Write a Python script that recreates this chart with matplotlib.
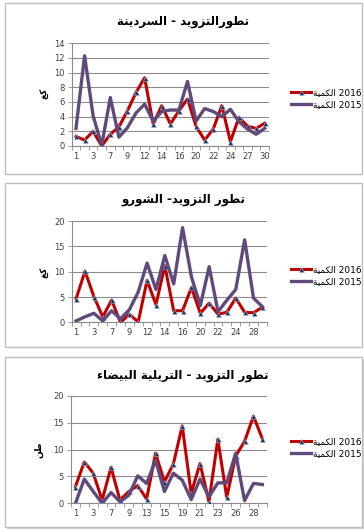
import matplotlib
matplotlib.use("Agg")
import matplotlib.pyplot as plt
from matplotlib.patches import Rectangle

# ============================================================
# DATA
# ============================================================

days_sardine = [1, 2, 3, 6, 7, 8, 9, 10, 12, 13, 14, 15, 16, 17, 20, 21, 22, 23, 24, 26, 27, 28, 30]
sardine_2016 = [1.3, 0.8, 2.0, 0.0, 1.6, 2.6, 4.8, 7.3, 9.3, 3.0, 5.5, 3.0,
                4.8, 6.4, 2.7, 0.8, 2.3, 5.5, 0.6, 3.9, 2.7, 2.4, 3.1]
sardine_2015 = [2.4, 12.3, 4.1, 0.1, 6.6, 1.2, 2.5, 4.5, 5.7, 3.4, 4.7, 4.9,
                4.9, 8.8, 3.4, 5.1, 4.7, 4.0, 5.0, 3.3, 2.3, 1.6, 2.4]

days_chourou = [1, 2, 3, 6, 7, 8, 9, 10, 12, 13, 14, 15, 16, 17, 20, 21, 22, 23, 24, 27, 28, 30]
chourou_2016 = [4.7, 10.1, 5.1, 1.1, 4.4, 0.0, 1.6, 0.1, 8.3, 3.5, 11.2, 2.3,
                2.3, 6.9, 1.8, 3.8, 1.6, 2.0, 4.8, 2.0, 1.9, 3.0]
chourou_2015 = [0.3, 1.1, 1.8, 0.3, 2.3, 0.7, 2.5, 6.0, 11.7, 6.5, 13.2, 7.6,
                18.7, 9.0, 3.3, 11.0, 2.1, 4.4, 6.5, 16.3, 4.8, 3.1]

days_bianca = [1, 2, 3, 6, 7, 8, 9, 10, 13, 14, 15, 17, 19, 20, 21, 22, 23, 24, 26, 27, 28, 30]
bianca_2016 = [3.1, 7.7, 5.6, 0.6, 6.7, 0.6, 2.2, 3.3, 0.8, 9.3, 4.0, 7.3,
               14.4, 1.9, 7.4, 0.3, 11.9, 1.1, 8.8, 11.5, 16.2, 12.0]
bianca_2015 = [0.0, 4.5, 2.2, 0.0, 2.0, 0.3, 1.5, 5.1, 3.7, 8.0, 2.2, 5.6,
               4.3, 0.7, 4.5, 1.2, 3.8, 3.8, 9.3, 0.5, 3.7, 3.5]

titles = ["تطورالتزويد - السردينة", "تطور التزويد- الشورو", "تطور التزويد - التريلية البيضاء"]
unit_labels = ["كغ", "كغ", "طن"]
qty_word = "الكمية"
years = ["2016", "2015"]
y_max = [14, 20, 20]
y_step = [2, 5, 5]


# ============================================================
# small arabic shaper (matplotlib has no bidi / joining)
# ============================================================
AR_FORMS = {
    "ء": (0xFE80, 0xFE80, None, None),
    "ا": (0xFE8D, 0xFE8E, None, None),
    "ب": (0xFE8F, 0xFE90, 0xFE91, 0xFE92),
    "ة": (0xFE93, 0xFE94, None, None),
    "ت": (0xFE95, 0xFE96, 0xFE97, 0xFE98),
    "د": (0xFEA9, 0xFEAA, None, None),
    "ر": (0xFEAD, 0xFEAE, None, None),
    "ز": (0xFEAF, 0xFEB0, None, None),
    "س": (0xFEB1, 0xFEB2, 0xFEB3, 0xFEB4),
    "ش": (0xFEB5, 0xFEB6, 0xFEB7, 0xFEB8),
    "ض": (0xFEBD, 0xFEBE, 0xFEBF, 0xFEC0),
    "ط": (0xFEC1, 0xFEC2, 0xFEC3, 0xFEC4),
    "غ": (0xFECD, 0xFECE, 0xFECF, 0xFED0),
    "ك": (0xFED9, 0xFEDA, 0xFEDB, 0xFEDC),
    "ل": (0xFEDD, 0xFEDE, 0xFEDF, 0xFEE0),
    "م": (0xFEE1, 0xFEE2, 0xFEE3, 0xFEE4),
    "ن": (0xFEE5, 0xFEE6, 0xFEE7, 0xFEE8),
    "و": (0xFEED, 0xFEEE, None, None),
    "ي": (0xFEF1, 0xFEF2, 0xFEF3, 0xFEF4),
}


def shape_ar(text):
    out = []
    for i, c in enumerate(text):
        if c not in AR_FORMS:
            out.append(c)
            continue
        f = AR_FORMS[c]
        prev = text[i - 1] if i > 0 else None
        nxt = text[i + 1] if i + 1 < len(text) else None
        jp = prev in AR_FORMS and AR_FORMS[prev][2] is not None
        jn = f[2] is not None and nxt in AR_FORMS
        if jp and jn:
            out.append(chr(f[3]))
        elif jp:
            out.append(chr(f[1]))
        elif jn:
            out.append(chr(f[2]))
        else:
            out.append(chr(f[0]))
    return "".join(reversed(out))


RED = "#C00000"
PURPLE = "#604A7B"
GRID = "#8C8C8C"
TXT = "#404040"

fig = plt.figure(figsize=(3.64, 5.32), dpi=100)
fig.patch.set_facecolor("white")

panels = [
    dict(days=days_sardine, a=sardine_2016, b=sardine_2015,
         rect=[0.197, 0.7256, 0.542, 0.193], box=(3, 174), title_y=22, lab=(45, 93), leg_y=98.5),
    dict(days=days_chourou, a=chourou_2016, b=chourou_2015,
         rect=[0.197, 0.394, 0.536, 0.1904], box=(183, 347), title_y=200, lab=(45, 272), leg_y=275.5),
    dict(days=days_bianca, a=bianca_2016, b=bianca_2015,
         rect=[0.195, 0.0539, 0.538, 0.2023], box=(357, 527), title_y=375, lab=(39, 450), leg_y=447.5),
]

W, H = 364.0, 532.0

for k, p in enumerate(panels):
    # panel frame (last one has a little drop shadow)
    y0, y1 = p["box"]
    if k == 2:
        fig.patches.append(Rectangle((7 / W, 1 - (y1 + 2) / H), 357 / W, (y1 - y0) / H,
                                     transform=fig.transFigure, facecolor="#D0D0D0",
                                     edgecolor="none", zorder=-2))
        fig.patches.append(Rectangle((5 / W, 1 - y1 / H), 357 / W, (y1 - y0) / H,
                                     transform=fig.transFigure, facecolor="white",
                                     edgecolor="none", zorder=-1))
    fig.patches.append(Rectangle((5 / W, 1 - y1 / H), 357 / W, (y1 - y0) / H,
                                 transform=fig.transFigure, fill=False,
                                 edgecolor="#BFBFBF", linewidth=1.0, zorder=-1))

    ax = fig.add_axes(p["rect"])
    ax.set_zorder(1)
    ax.patch.set_alpha(0)
    n = len(p["days"])
    x = list(range(n))

    ax.plot(x, p["a"], color=RED, lw=2.2, marker="^", ms=3.6,
            mfc="#1F2F55", mec="#9CC3E6", mew=0.4,
            label=shape_ar(qty_word) + " " + years[0], zorder=3)
    ax.plot(x, p["b"], color=PURPLE, lw=2.4,
            label=shape_ar(qty_word) + " " + years[1], zorder=4)

    ax.set_xlim(-0.5, n - 0.5)
    ax.set_ylim(0, y_max[k])
    ax.set_yticks(range(0, y_max[k] + 1, y_step[k]))
    ax.yaxis.grid(True, color=GRID, lw=0.8)
    ax.set_axisbelow(True)

    ax.set_xticks(x[::2])
    ax.set_xticklabels([str(d) for d in p["days"][::2]])
    ax.set_xticks([i - 0.5 for i in range(n + 1)], minor=True)
    ax.tick_params(axis="x", which="major", length=0, pad=4, labelsize=6, labelcolor=TXT)
    ax.tick_params(axis="x", which="minor", length=3, color=GRID, width=0.6)
    ax.tick_params(axis="y", length=3, color=GRID, width=0.6, labelsize=6, labelcolor=TXT, pad=2)

    for s in ["top", "right"]:
        ax.spines[s].set_visible(False)
    for s in ["left", "bottom"]:
        ax.spines[s].set_color(GRID)
        ax.spines[s].set_linewidth(0.8)

    fig.text(0.503, 1 - p["title_y"] / H, shape_ar(titles[k]), ha="center", va="center",
             fontsize=8.5, fontweight="bold", family="DejaVu Sans", color="black")
    fig.text(p["lab"][0] / W, 1 - p["lab"][1] / H, shape_ar(unit_labels[k]),
             rotation=90, ha="center", va="center", fontsize=6.5,
             fontweight="bold", family="DejaVu Sans")

    ax.legend(loc="center left", bbox_to_anchor=(291 / W, 1 - p["leg_y"] / H),
              bbox_transform=fig.transFigure, frameon=False,
              handlelength=2.2, handletextpad=0.2, labelspacing=0.35,
              borderpad=0, borderaxespad=0, numpoints=1,
              prop=dict(family=["DejaVu Sans"], size=6.5))

fig.savefig("out.png", dpi=100)
